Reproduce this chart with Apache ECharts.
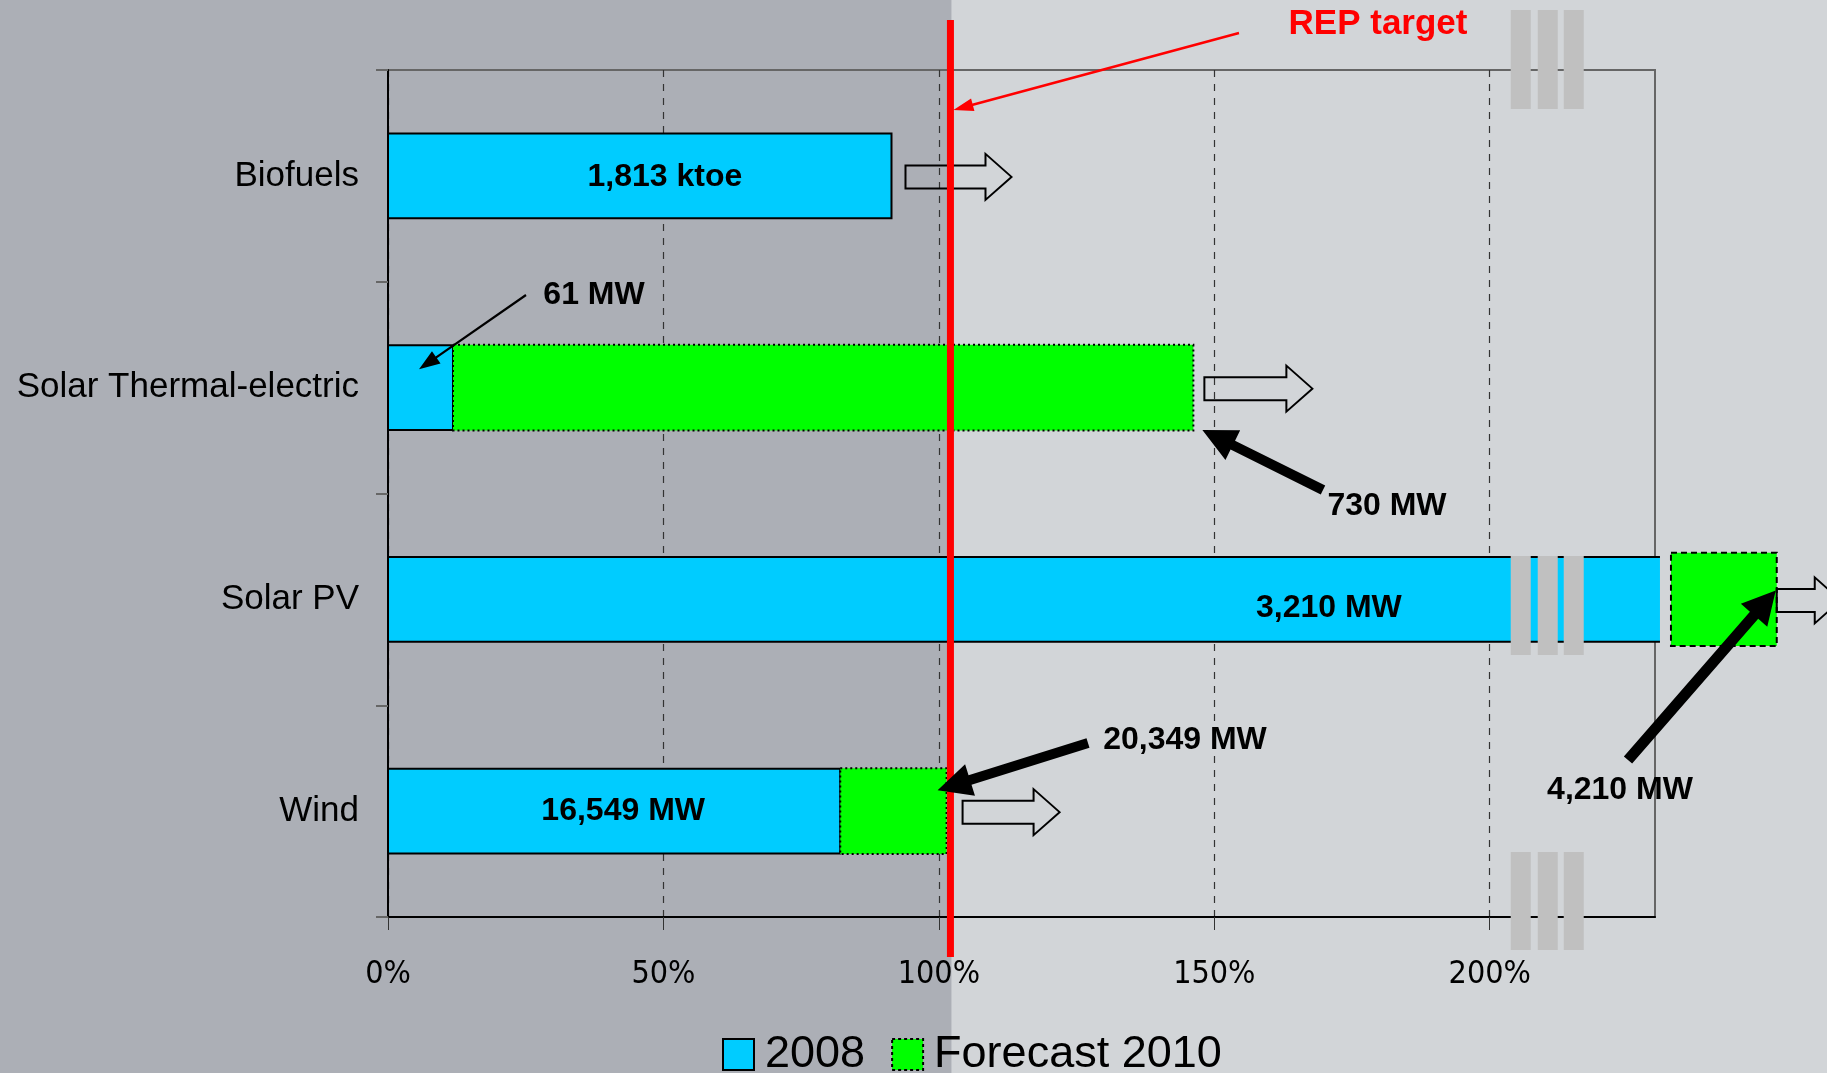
<!DOCTYPE html>
<html>
<head>
<meta charset="utf-8">
<script src="https://cdn.jsdelivr.net/npm/echarts@6/dist/echarts.min.js"></script>
<style>
  html, body { margin: 0; padding: 0; overflow: hidden; }
  #chart { width: 1827px; height: 1073px; }
</style>
</head>
<body>
<div id="chart"></div>
<script>
// Renewable technologies, top to bottom
const categories = ['Biofuels', 'Solar Thermal-electric', 'Solar PV', 'Wind'];
// Share of the REP 2010 target, in % (Solar PV runs past the frame on a broken scale)
const share2008 = [91.4, 11.8, 230.9, 82.1];
const forecastStart = [null, 11.8, 232.9, 82.1];
const forecast2010 = [null, 146.2, 252.1, 101.4];
const xTicks = [0, 50, 100, 150, 200];
const repTarget = 102.1;
// Installed capacity / output written on the chart
const label2008 = ['1,813 ktoe', '61 MW', '3,210 MW', '16,549 MW'];
const label2010 = [null, '730 MW', '4,210 MW', '20,349 MW'];

const X_MAX = 230;
const BLUE = '#00CCFF';
const GREEN = '#00FF00';
const FONT = '"Liberation Sans", Arial, sans-serif';
const NARROW = '"Liberation Sans Narrow", "DejaVu Sans Condensed", sans-serif';

const chart = echarts.init(document.getElementById('chart'), null, { renderer: 'canvas' });

function barRect(api, heightFactor) {
  const i = api.value(2);
  const a = api.coord([api.value(0), i]);
  const b = api.coord([api.value(1), i]);
  const h = api.size([0, 1])[1] * heightFactor;
  return { x0: a[0], x1: b[0], y0: a[1] - h / 2, y1: a[1] + h / 2 };
}

const option = {
  backgroundColor: '#D2D5D8',
  animation: false,
  grid: {
    left: 388, top: 70, right: 172, bottom: 156,
    show: true, borderColor: '#666', borderWidth: 2, backgroundColor: 'transparent',
    containLabel: false, outerBoundsMode: 'none'
  },
  xAxis: {
    type: 'value', min: 0, max: X_MAX, interval: 50,
    axisLine: { show: true, lineStyle: { color: '#000', width: 2 } },
    axisTick: { show: true, length: 13, customValues: xTicks, lineStyle: { color: '#333', width: 1 } },
    axisLabel: {
      show: true, margin: 42, fontSize: 32, fontFamily: NARROW, color: '#000',
      customValues: xTicks,
      formatter: v => (xTicks.includes(v) ? v + '%' : '')
    },
    splitLine: { show: true, lineStyle: { color: '#333', width: 1.2, type: [7, 7] } }
  },
  yAxis: {
    type: 'category', data: categories, inverse: true,
    axisLine: { show: true, lineStyle: { color: '#000', width: 2 } },
    axisTick: { show: true, length: 12, inside: false, lineStyle: { color: '#666', width: 2 } },
    axisLabel: { margin: 29, fontSize: 35, fontFamily: FONT, color: '#000' },
    splitLine: { show: false }
  },
  legend: {
    left: 722, top: 1032, padding: 0, itemGap: 26, itemWidth: 31, itemHeight: 31,
    selectedMode: false,
    textStyle: { fontSize: 45, fontFamily: FONT, color: '#000', padding: [0, 0, 0, 6] },
    data: [
      { name: '2008', icon: 'rect', itemStyle: { color: BLUE, borderColor: '#000', borderWidth: 2 } },
      { name: 'Forecast 2010', icon: 'rect', itemStyle: { color: GREEN, borderColor: '#000', borderWidth: 2, borderType: [3, 3] } }
    ]
  },
  series: [
    {
      type: 'custom', name: '2008', z: 3, clip: false,
      encode: { x: [0, 1], y: 2 },
      itemStyle: { color: BLUE },
      data: share2008.map((v, i) => [0, v, i]),
      renderItem(params, api) {
        const r = barRect(api, 0.4);
        const cut = api.value(1) > X_MAX;
        const children = [{
          type: 'rect',
          shape: { x: r.x0, y: r.y0, width: r.x1 - r.x0, height: r.y1 - r.y0 },
          style: { fill: BLUE, stroke: cut ? null : '#000', lineWidth: 2 }
        }];
        if (cut) {
          children.push({
            type: 'polyline',
            shape: { points: [[r.x1, r.y0], [r.x0, r.y0], [r.x0, r.y1], [r.x1, r.y1]] },
            style: { fill: null, stroke: '#000', lineWidth: 2 }
          });
        }
        return { type: 'group', children };
      }
    },
    {
      type: 'custom', name: 'Forecast 2010', z: 4, clip: false,
      encode: { x: [0, 1], y: 2 },
      itemStyle: { color: GREEN },
      data: forecast2010
        .map((v, i) => (v == null ? null : [forecastStart[i], v, i]))
        .filter(d => d !== null),
      renderItem(params, api) {
        const beyond = api.value(0) > X_MAX;
        const r = barRect(api, beyond ? 0.44 : 0.405);
        return {
          type: 'rect',
          shape: { x: r.x0, y: r.y0, width: r.x1 - r.x0, height: r.y1 - r.y0 },
          style: {
            fill: GREEN, stroke: '#000', lineWidth: 2,
            lineDash: beyond ? [6, 4] : [2, 3]
          }
        };
      }
    }
  ]
};

chart.setOption(option);

// ---- annotations placed from the axis scales ----
const px = (x, i) => chart.convertToPixel({ xAxisIndex: 0, yAxisIndex: 0 }, [x, i]);
const band = px(0, 1)[1] - px(0, 0)[1];
const half = band * 0.2;

function arrowPolygon(tail, tip, shaft, headLen, headW) {
  const dx = tip[0] - tail[0], dy = tip[1] - tail[1];
  const L = Math.hypot(dx, dy);
  const ux = dx / L, uy = dy / L, nx = -uy, ny = ux;
  const bx = tip[0] - ux * headLen, by = tip[1] - uy * headLen;
  return [
    [tail[0] + nx * shaft / 2, tail[1] + ny * shaft / 2],
    [bx + nx * shaft / 2, by + ny * shaft / 2],
    [bx + nx * headW / 2, by + ny * headW / 2],
    [tip[0], tip[1]],
    [bx - nx * headW / 2, by - ny * headW / 2],
    [bx - nx * shaft / 2, by - ny * shaft / 2],
    [tail[0] - nx * shaft / 2, tail[1] - ny * shaft / 2]
  ];
}

function blockArrow(x0, yc, bodyLen) {
  const bh = 23, hh = 46, hl = 26, x1 = x0 + bodyLen;
  return {
    type: 'polygon', z: 40,
    shape: { points: [[x0, yc - bh / 2], [x1, yc - bh / 2], [x1, yc - hh / 2], [x1 + hl, yc],
                      [x1, yc + hh / 2], [x1, yc + bh / 2], [x0, yc + bh / 2]] },
    style: { fill: 'transparent', stroke: '#000', lineWidth: 2 }
  };
}

function label(text, x, y, color, size) {
  return {
    type: 'text', z: 60, x, y,
    style: {
      text, fill: color || '#000',
      font: 'bold ' + (size || 32) + 'px ' + FONT,
      align: 'center', verticalAlign: 'middle',
      textAlign: 'center', textVerticalAlign: 'middle'
    }
  };
}

const xr = px(repTarget, 0)[0];
const c = categories.map((_, i) => px(0, i)[1]);
const x200 = px(200, 0)[0];

const graphics = [];
// darker panel up to the REP target
graphics.push({ type: 'rect', z: -10, shape: { x: 0, y: 0, width: xr + 1, height: 1073 }, style: { fill: '#ACAFB6' } });

// hollow "growth" arrows after the bars
graphics.push(blockArrow(px(share2008[0], 0)[0] + 14, c[0] + 1, 80));
graphics.push(blockArrow(px(forecast2010[1], 1)[0] + 11, c[1] + 1, 82));
graphics.push(blockArrow(px(forecast2010[2], 2)[0], c[2] + 1, 38));
graphics.push(blockArrow(px(forecast2010[3], 3)[0] + 16, c[3] + 1, 71));

// REP target line
graphics.push({ type: 'line', z: 50, shape: { x1: xr, y1: 20, x2: xr, y2: 957 }, style: { stroke: '#FF0000', lineWidth: 7 } });
graphics.push({ type: 'polygon', z: 55, shape: { points: arrowPolygon([1239, 33], [xr + 3, 110], 2.5, 20, 13) }, style: { fill: '#FF0000' } });
graphics.push(label('REP target', 1378, 24, '#FF0000', 35));

// axis break markers
[[10, 99], [c[2] - half - 1, 99], [852, 98]].forEach(([y, h]) => {
  [21, 48, 74].forEach(off => {
    graphics.push({ type: 'rect', z: 45, shape: { x: x200 + off, y, width: 20, height: h }, style: { fill: '#C0C0C0' } });
  });
});

// value call-outs
const thermalEnd2008 = px(share2008[1], 1)[0];
graphics.push({ type: 'polygon', z: 55, shape: { points: arrowPolygon([526, 295], [thermalEnd2008 - 34, c[1] - half + 24], 2.2, 21, 15) }, style: { fill: '#000' } });
graphics.push(label(label2008[1], 594, 295));

const thermalEnd2010 = px(forecast2010[1], 1)[0];
graphics.push({ type: 'polygon', z: 55, shape: { points: arrowPolygon([1323, 490], [thermalEnd2010 + 9, c[1] + half], 10, 34, 33) }, style: { fill: '#000' } });
graphics.push(label(label2010[1], 1387, 506));

const windEnd2010 = px(forecast2010[3], 3)[0];
graphics.push({ type: 'polygon', z: 55, shape: { points: arrowPolygon([1088, 743], [windEnd2010 - 9, c[3] - 21], 10, 34, 33) }, style: { fill: '#000' } });
graphics.push(label(label2010[3], 1185, 740));

const pvEnd2010 = px(forecast2010[2], 2)[0];
graphics.push({ type: 'polygon', z: 55, shape: { points: arrowPolygon([1628, 760], [pvEnd2010 - 1, c[2] - 9], 11, 33, 35) }, style: { fill: '#000' } });
graphics.push(label(label2010[2], 1620, 790));

// labels inside the 2008 bars
graphics.push(label(label2008[0], px(share2008[0] * 0.55, 0)[0], c[0] + 1));
graphics.push(label(label2008[2], px(170.8, 2)[0], c[2] + 9));
graphics.push(label(label2008[3], px(share2008[3] * 0.52, 3)[0], c[3]));

chart.setOption({ graphic: { elements: graphics } });
</script>
</body>
</html>
